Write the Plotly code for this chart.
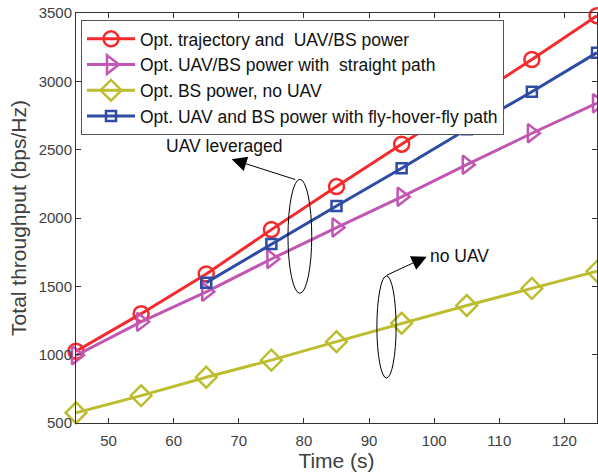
import plotly.graph_objects as go

# Time axis (s)
time_s = [45, 55, 65, 75, 85, 95, 105, 115, 125]
time_fhf = [65, 75, 85, 95, 105, 115, 125]

# Total throughput (bps/Hz) for each scheme
opt_traj_power = [1025, 1300, 1590, 1915, 2230, 2540, 2850, 3160, 3480]
opt_straight = [995, 1240, 1460, 1700, 1930, 2155, 2390, 2620, 2840]
opt_bs_no_uav = [575, 700, 835, 960, 1095, 1230, 1360, 1485, 1610]
opt_fly_hover_fly = [1527, 1810, 2088, 2364, 2649, 2924, 3210]

series_names = [
    "Opt. trajectory and  UAV/BS power",
    "Opt. UAV/BS power with  straight path",
    "Opt. BS power, no UAV",
    "Opt. UAV and BS power with fly-hover-fly path",
]

x_ticks = [50, 60, 70, 80, 90, 100, 110, 120]
y_ticks = [500, 1000, 1500, 2000, 2500, 3000, 3500]

FONT = "Liberation Sans, Arial, Helvetica, sans-serif"

fig = go.Figure()

styles = [
    (time_s, opt_traj_power, "#F42A2C", "circle-open", 15),
    (time_s, opt_straight, "#C257B3", "triangle-right-open", 16),
    (time_s, opt_bs_no_uav, "#BDBD30", "diamond-open", 16),
    (time_fhf, opt_fly_hover_fly, "#2E4BA6", "square-open", 10),
]

for name, (xs, ys, color, symbol, size) in zip(series_names, styles):
    fig.add_trace(go.Scatter(
        x=xs, y=ys, name=name, mode="lines+markers",
        line=dict(color=color, width=3),
        marker=dict(symbol=symbol, size=size, color=color,
                    line=dict(color=color, width=2.5)),
        cliponaxis=False,
    ))

# Ellipses grouping curves
fig.add_shape(type="circle", xref="x", yref="y",
              x0=77.55, x1=81.2, y0=1449, y1=2283,
              line=dict(color="black", width=1))
fig.add_shape(type="circle", xref="x", yref="y",
              x0=91.2, x1=94.15, y0=829, y1=1576,
              line=dict(color="black", width=1))

# Arrows and labels
fig.add_annotation(x=68.9, y=2430, ax=78.9, ay=2278, axref="x", ayref="y",
                   xref="x", yref="y", text="", showarrow=True,
                   arrowhead=2, arrowsize=3, arrowwidth=1, arrowcolor="black")
fig.add_annotation(x=67.8, y=2527, xref="x", yref="y", text="UAV leveraged",
                   showarrow=False, font=dict(family=FONT, size=17.5, color="#111"))
fig.add_annotation(x=98.85, y=1717, ax=92.45, ay=1576, axref="x", ayref="y",
                   xref="x", yref="y", text="", showarrow=True,
                   arrowhead=2, arrowsize=3, arrowwidth=1, arrowcolor="black")
fig.add_annotation(x=99.0, y=1722, xref="x", yref="y", text="no UAV",
                   xanchor="left", showarrow=False,
                   font=dict(family=FONT, size=17.5, color="#111"))

axis_common = dict(
    showline=True, linecolor="#333333", linewidth=1, mirror="ticks",
    ticks="inside", ticklen=5, tickcolor="#333333", showgrid=False,
    zeroline=False, tickfont=dict(family=FONT, size=15, color="#404040"),
)

fig.update_xaxes(range=[45, 125], tickvals=x_ticks, ticklabelstandoff=4,
                 title=dict(text="Time (s)", font=dict(family=FONT, size=21, color="#404040"),
                            standoff=2),
                 **axis_common)
fig.update_yaxes(range=[500, 3500], tickvals=y_ticks,
                 title=dict(text="Total throughput (bps/Hz)",
                            font=dict(family=FONT, size=21, color="#404040"), standoff=6),
                 **axis_common)

fig.update_layout(
    width=598, height=474,
    margin=dict(l=76, r=1, t=13, b=51),
    paper_bgcolor="white", plot_bgcolor="white",
    font=dict(family=FONT),
    legend=dict(x=0.0096, y=0.983, xanchor="left", yanchor="top",
                bgcolor="white", bordercolor="#555555", borderwidth=1,
                font=dict(family=FONT, size=17.5, color="#111"),
                itemwidth=48, tracegroupgap=0),
    showlegend=True,
)

fig.write_html("out.html")
